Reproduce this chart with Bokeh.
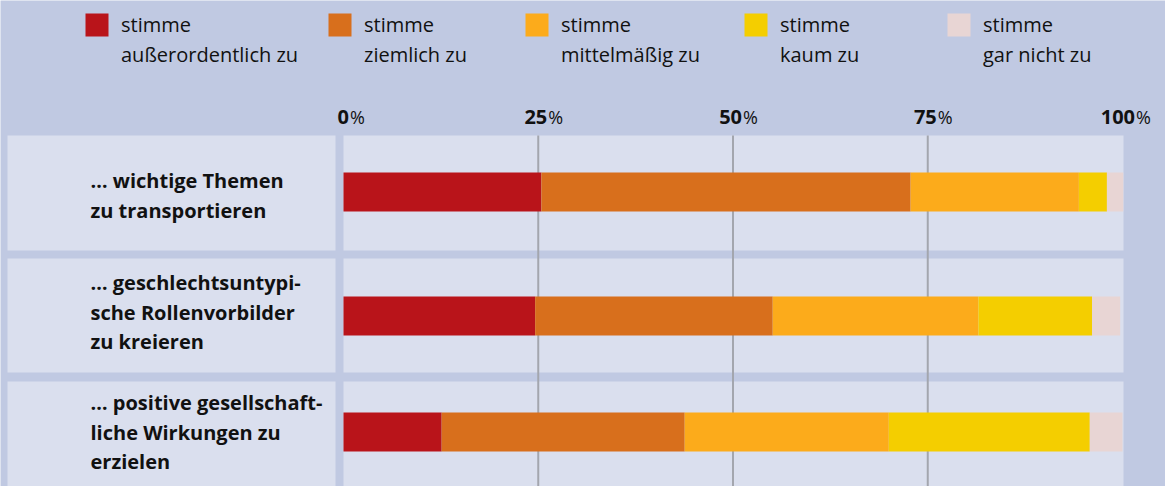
from bokeh.plotting import figure
from bokeh.models import Range1d
from bokeh.core.properties import value
from bokeh.embed import file_html
from bokeh.resources import INLINE

# ---------------- data ----------------
questions = [
    "… wichtige Themen\nzu transportieren",
    "… geschlechtsuntypi-\nsche Rollenvorbilder\nzu kreieren",
    "… positive gesellschaft-\nliche Wirkungen zu\nerzielen",
]
series = [
    "stimme\naußerordentlich zu",
    "stimme\nziemlich zu",
    "stimme\nmittelmäßig zu",
    "stimme\nkaum zu",
    "stimme\ngar nicht zu",
]
colors = ["#b9141a", "#d86f1c", "#fcab1b", "#f4ce00", "#e8d5d4"]
ausserordentlich = [25.4, 24.6, 12.6]
ziemlich = [47.4, 30.5, 31.2]
mittelmaessig = [21.6, 26.4, 26.2]
kaum = [3.6, 14.6, 25.8]
gar_nicht = [2.1, 3.6, 4.2]
ticks = [0, 25, 50, 75, 100]

values = [ausserordentlich, ziemlich, mittelmaessig, kaum, gar_nicht]

# ---------------- layout (picture pixels) ----------------
W, H = 1165, 486
X0, X100 = 343.0, 1122.0
S = (X100 - X0) / 100.0
DY = -8  # text baseline correction


def px(xp):
    return (xp - X0) / S


BG = "#c0c9e2"
PANEL = "#dadfee"
GRID = "#a3a6ae"
FONT = "Open Sans"

p = figure(width=W, height=H, output_backend="svg", toolbar_location=None,
           x_range=Range1d(px(0), px(W)), y_range=Range1d(H, 0),
           min_border=0, min_border_left=0, min_border_right=0,
           min_border_top=0, min_border_bottom=0)
p.axis.visible = False
p.grid.visible = False
p.outline_line_color = None
p.background_fill_color = BG
p.border_fill_color = BG

row_y = [191.5, 315.5, 431.5]
panel_top = [135, 258, 381]
panel_bot = [250, 372, 500]
label_first_baseline = [188, 290, 410]
LINE = 29.5

# panels
p.quad(left=[px(7)] * 3, right=[px(335)] * 3, top=panel_top, bottom=panel_bot,
       fill_color=PANEL, line_color=None)
p.quad(left=[px(343)] * 3, right=[px(1123)] * 3, top=panel_top, bottom=panel_bot,
       fill_color=PANEL, line_color=None)

# gridlines
for t in ticks[1:-1]:
    p.segment(x0=[t], x1=[t], y0=[135], y1=[H], line_color=GRID, line_width=2)

# stacked bars
left = [0.0] * len(questions)
for vals, col in zip(values, colors):
    right = [l + v for l, v in zip(left, vals)]
    p.hbar(y=row_y, left=left, right=right, height=39, fill_color=col, line_color=None)
    left = right

# row labels
for q, b in zip(questions, label_first_baseline):
    lines = q.split("\n")
    p.text(x=[px(90)] * len(lines), y=[b + DY + i * LINE for i in range(len(lines))], text=lines,
           text_font=value(FONT), text_font_style="bold", text_font_size="20px",
           text_color="#111111", text_baseline="alphabetic", text_align="left")

# tick labels (bold number + regular %)
for t in ticks:
    num = str(t)
    split = t + (2 + 3.5 * len(num)) / S
    p.text(x=[split], y=[124.5 + DY], text=[num], text_font=value(FONT), text_font_style="bold",
           text_font_size="20px", text_color="#111111", text_align="right",
           text_baseline="alphabetic")
    p.text(x=[split + 1 / S], y=[124.5 + DY], text=["%"], text_font=value(FONT),
           text_font_size="18px", text_color="#111111", text_align="left",
           text_baseline="alphabetic")

# legend
leg_x = [85, 328, 525, 744, 947]
p.rect(x=[px(x + 11.5) for x in leg_x], y=[24.5] * 5, width=23 / S, height=23,
       fill_color=colors, line_color=None)
for lx, s in zip(leg_x, series):
    lines = s.split("\n")
    p.text(x=[px(lx + 35.5)] * len(lines), y=[31.7 + DY + i * 30 for i in range(len(lines))],
           text=lines, text_font=value(FONT), text_font_size="20px", text_color="#111111",
           text_baseline="alphabetic", text_align="left")

open("out.html", "w").write(file_html(p, INLINE))
